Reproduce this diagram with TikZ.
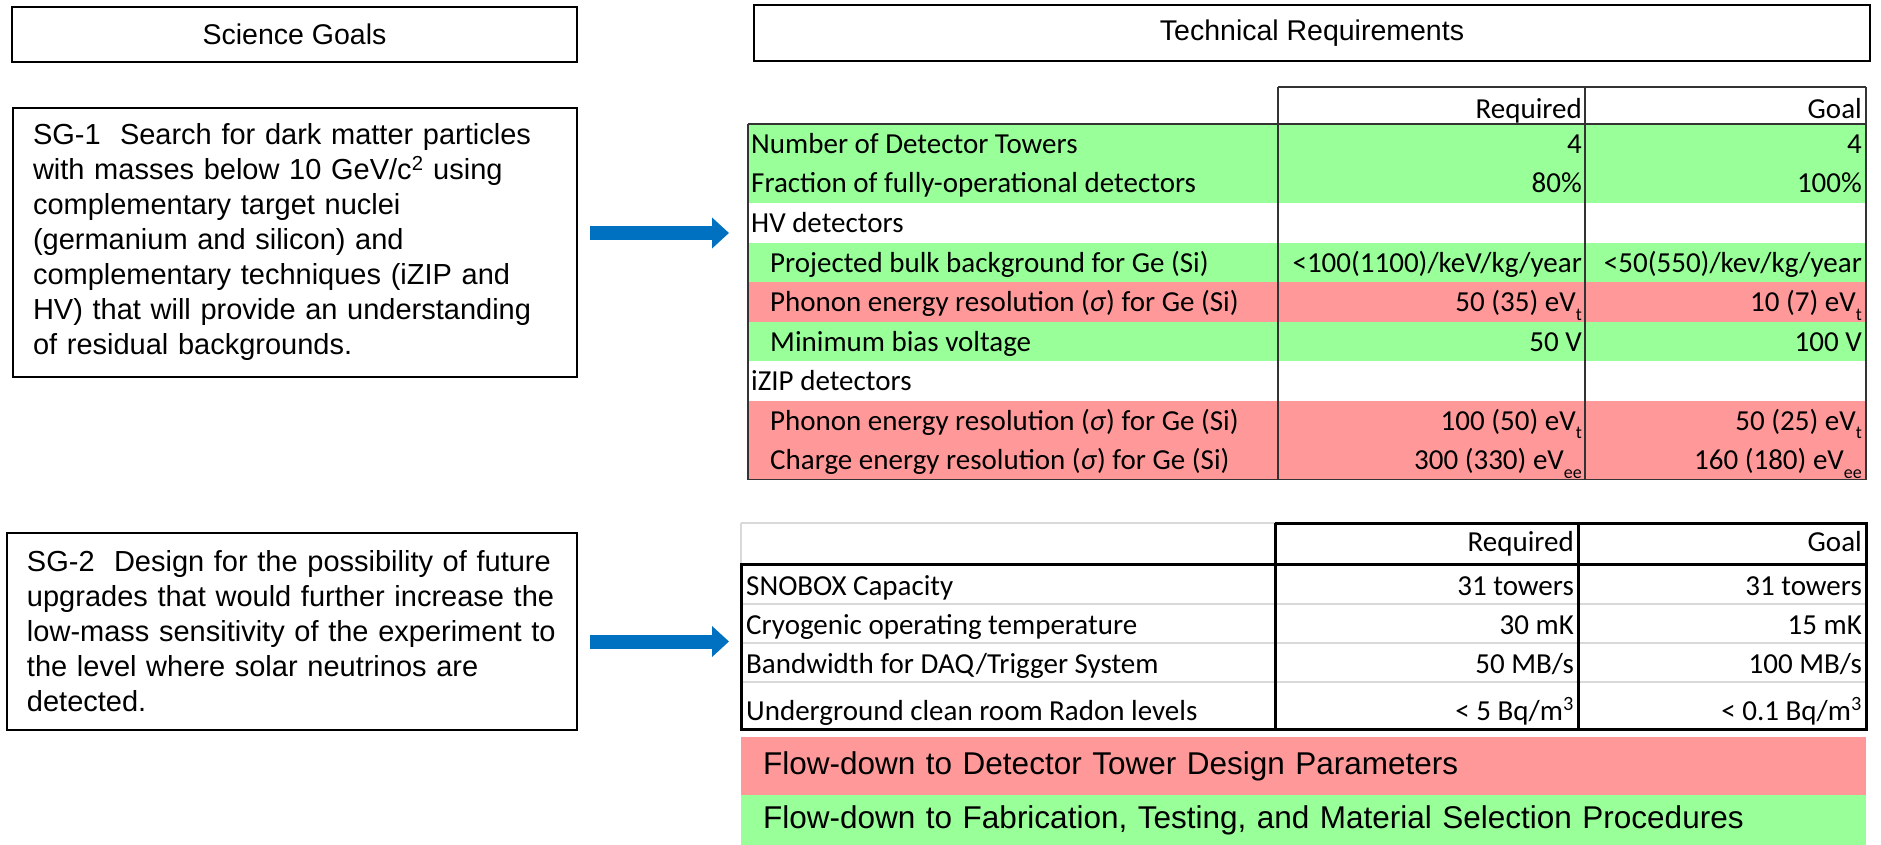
\documentclass[tikz,border=0pt]{standalone}
\usepackage{fontspec}
\setmainfont{Liberation Sans}
\newfontfamily\calfont{Carlito}
\usetikzlibrary{arrows.meta}
\definecolor{rgreen}{HTML}{99FF99}
\definecolor{rpink}{HTML}{FF9999}
\definecolor{rblue}{HTML}{0070C0}
\definecolor{rgray}{HTML}{D9D9D9}
\newcommand{\subsc}[1]{\raisebox{-0.3em}{\fontsize{18}{18}\selectfont #1}}
\newcommand{\sig}{(\textit{σ})}
\begin{document}
\begin{tikzpicture}[x=1pt,y=-1pt,
  hdr/.style={draw=black, line width=2pt, font=\fontsize{28.5}{34}\selectfont, inner sep=0pt},
  goalbox/.style={draw=black, line width=2pt, font=\fontsize{29}{35}\selectfont, align=left, inner xsep=20pt, inner ysep=0pt},
  bluearrow/.style={draw=rblue, line width=14pt, -{Triangle[length=17pt,width=30pt]}},
  cell/.style={font=\calfont\fontsize{29}{35}\selectfont, inner sep=0pt},
  lab/.style={cell, anchor=base west},
  val/.style={cell, anchor=base east},
  tline/.style={draw=black!80, line width=1.5pt},
  bline/.style={draw=black, line width=3pt},
  gline/.style={draw=rgray, line width=2.5pt},
  flow/.style={anchor=north west, font=\fontsize{31.5}{36}\selectfont, align=left, inner xsep=22pt, inner ysep=0pt, minimum width=1125pt, text width=1081pt}
]
\useasboundingbox (0,0) rectangle (1881,845);

% headers
\node[hdr, minimum width=565pt, minimum height=55pt] (sg) at (294.5,34.5) {Science Goals};
\node[hdr, minimum width=1116pt, minimum height=56pt] (tr) at (1312,33) {Technical Requirements};

% science goal boxes
\node[goalbox, minimum width=564pt, minimum height=269pt, text width=524pt] (sg1) at (295,242.5)
 {SG-1\ \ Search for dark matter particles\\
  with masses below 10 GeV/c\textsuperscript{2} using\\
  complementary target nuclei\\
  (germanium and silicon) and\\
  complementary techniques (iZIP and\\
  HV) that will provide an understanding\\
  of residual backgrounds.};
\node[goalbox, minimum width=570pt, minimum height=197pt, text width=530pt] (sg2) at (292,631.5)
 {SG-2\ \ Design for the possibility of future\\
  upgrades that would further increase the\\
  low-mass sensitivity of the experiment to\\
  the level where solar neutrinos are\\
  detected.};

% arrows
\coordinate (a1s) at (590,233);
\coordinate (a1e) at (729,233);
\coordinate (a2s) at (590,641.5);
\coordinate (a2e) at (729,641.5);
\draw[bluearrow] (a1s) -- (a1e);
\draw[bluearrow] (a2s) -- (a2e);

% ---------- table 1 ----------
\fill[rgreen] (748,124) rectangle (1866,203);
\fill[rgreen] (748,242.5) rectangle (1866,282);
\fill[rpink] (748,282) rectangle (1866,321.5);
\fill[rgreen] (748,321.5) rectangle (1866,361);
\fill[rpink] (748,400.5) rectangle (1866,479.5);
\draw[tline] (1278,87) -- (1866,87);
\draw[tline] (748,124) -- (1866,124);
\draw[tline] (748,124) -- (748,479.5) -- (1866,479.5);
\draw[tline] (1278,87) -- (1278,479.5);
\draw[tline] (1585,87) -- (1585,479.5);
\draw[tline] (1866,87) -- (1866,479.5);

\node[val] (t1ha) at (1582,119) {Required};
\node[val] (t1hb) at (1862,119) {Goal};

\node[lab] (r1l) at (751,153.5) {Number of Detector Towers};
\node[val] (r1a) at (1582,153.5) {4};
\node[val] (r1b) at (1862,153.5) {4};

\node[lab] (r2l) at (751,193) {Fraction of fully-operational detectors};
\node[val] (r2a) at (1582,193) {80\%};
\node[val] (r2b) at (1862,193) {100\%};

\node[lab] (r3l) at (751,232.5) {HV detectors};

\node[lab] (r4l) at (770,272) {Projected bulk background for Ge (Si)};
\node[val] (r4a) at (1582,272) {<100(1100)/keV/kg/year};
\node[val] (r4b) at (1862,272) {<50(550)/kev/kg/year};

\node[lab] (r5l) at (770,311.5) {Phonon energy resolution \sig{} for Ge (Si)};
\node[val] (r5a) at (1582,311.5) {50 (35) eV\subsc{t}};
\node[val] (r5b) at (1862,311.5) {10 (7) eV\subsc{t}};

\node[lab] (r6l) at (770,351) {Minimum bias voltage};
\node[val] (r6a) at (1582,351) {50 V};
\node[val] (r6b) at (1862,351) {100 V};

\node[lab] (r7l) at (751,390.5) {iZIP detectors};

\node[lab] (r8l) at (770,430) {Phonon energy resolution \sig{} for Ge (Si)};
\node[val] (r8a) at (1582,430) {100 (50) eV\subsc{t}};
\node[val] (r8b) at (1862,430) {50 (25) eV\subsc{t}};

\node[lab] (r9l) at (770,469.5) {Charge energy resolution \sig{} for Ge (Si)};
\node[val] (r9a) at (1582,469.5) {300 (330) eV\subsc{ee}};
\node[val] (r9b) at (1862,469.5) {160 (180) eV\subsc{ee}};

% ---------- table 2 ----------
\draw[gline] (741,523) -- (1275,523);
\draw[gline] (741,523) -- (741,564);
\draw[gline] (741,604) -- (1866,604);
\draw[gline] (741,643) -- (1866,643);
\draw[gline] (741,682) -- (1866,682);
\draw[bline] (1275,523) -- (1866,523) -- (1866,729) -- (741,729) -- (741,564) -- (1866,564);
\draw[bline] (1275,523) -- (1275,729);
\draw[bline] (1578,523) -- (1578,729);

\node[val] (t2ha) at (1574,551) {Required};
\node[val] (t2hb) at (1862,551) {Goal};

\node[lab] (s1l) at (746,595) {SNOBOX Capacity};
\node[val] (s1a) at (1574,595) {31 towers};
\node[val] (s1b) at (1862,595) {31 towers};

\node[lab] (s2l) at (746,634) {Cryogenic operating temperature};
\node[val] (s2a) at (1574,634) {30 mK};
\node[val] (s2b) at (1862,634) {15 mK};

\node[lab] (s3l) at (746,673) {Bandwidth for DAQ/Trigger System};
\node[val] (s3a) at (1574,673) {50 MB/s};
\node[val] (s3b) at (1862,673) {100 MB/s};

\node[lab] (s4l) at (746,720) {Underground clean room Radon levels};
\node[val] (s4a) at (1574,720) {< 5 Bq/m\textsuperscript{3}};
\node[val] (s4b) at (1862,720) {< 0.1 Bq/m\textsuperscript{3}};

% ---------- flow-down bars ----------
\node[flow, fill=rpink, minimum height=58pt] (fd1) at (741,737) {Flow-down to Detector Tower Design Parameters};
\node[flow, fill=rgreen, minimum height=50pt] (fd2) at (741,795) {Flow-down to Fabrication, Testing, and Material Selection Procedures};
\end{tikzpicture}
\end{document}
